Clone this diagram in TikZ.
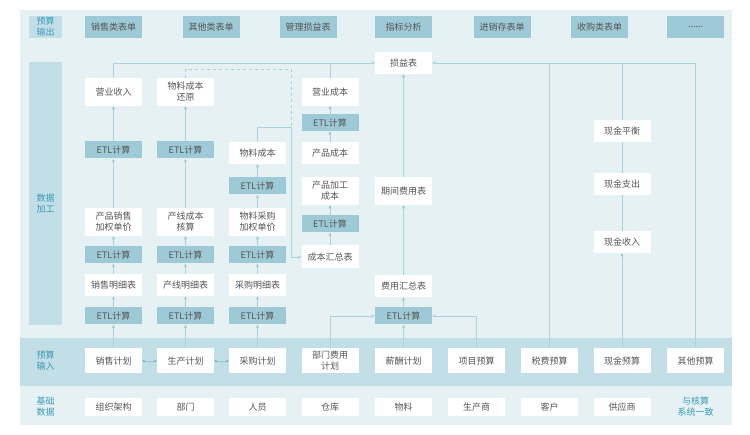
\documentclass[tikz,border=0pt]{standalone}
\usepackage{fontspec}
\setmainfont{Noto Sans CJK SC}
\usetikzlibrary{arrows.meta}
\definecolor{panelc}{HTML}{E6F1F4}
\definecolor{bandc}{HTML}{C2DFE7}
\definecolor{boxc}{HTML}{9DCAD6}
\definecolor{linec}{HTML}{A9D3DE}
\definecolor{tipc}{HTML}{8CC5D6}
\definecolor{textc}{HTML}{555555}
\definecolor{labelc}{HTML}{3A9AB4}

\begin{document}
\begin{tikzpicture}[x=1pt,y=-1pt]
  \tikzset{
      > = {Stealth[length=3.5pt,width=3.2pt]},
      every node/.append style = {
          font = \fontsize{9}{11}\selectfont,
          text = textc,
          align = center,
          inner sep = 0pt
      },
      plain/.style = {
          fill = white,
          minimum width = 57pt,
          minimum height = 22pt
      },
      twoline/.style = {
          plain,
          minimum height = 28pt
      },
      etl/.style = {
          fill = boxc,
          minimum width = 57pt,
          minimum height = 17pt
      },
      output/.style = {
          fill = boxc,
          minimum width = 57pt,
          minimum height = 22pt
      },
      budget/.style = {
          plain,
          minimum height = 25pt
      },
      base/.style = {
          plain,
          minimum height = 18pt
      },
      tag/.style = {
          fill = bandc,
          minimum width = 33pt,
          minimum height = 22pt
      },
      tagtext/.style = {
          text = labelc
      },
      link/.style = {
          draw = linec,
          line width = 0.8pt
      },
      flow/.style = {
          link,
          ->
      },
      dashlink/.style = {
          link,
          dash pattern = on 3pt off 3pt
      }
  }
  \useasboundingbox (0,0) rectangle (750,435);
  % background and bands
  \fill[panelc] (20,10) rectangle (732,425);
  \fill[bandc] (20,338) rectangle (732,386);

  % left labels
  \node[tag, tagtext] (lout) at (45.5,27) {预算\\输出};
  \node[tag, minimum height = 263pt] (lproc) at (45.5,193.5) {};
  \node[tagtext] (lproct) at (45.5,204) {数据\\加工};
  \node[tagtext] (linput) at (45.5,361) {预算\\输入};
  \node[tagtext] (lbase) at (45.5,407) {基础\\数据};

  % budget output
  \node[output] (o1) at (113.5,27) {销售类表单};
  \node[output] (o2) at (211,27) {其他类表单};
  \node[output] (o3) at (308,27) {管理损益表};
  \node[output] (o4) at (403.5,27) {指标分析};
  \node[output] (o5) at (502,27) {进销存表单};
  \node[output] (o6) at (599.5,27) {收购类表单};
  \node[output] (o7) at (695.5,27) {......};

  % data processing
  \node[plain] (pl) at (403.5,63) {损益表};

  \node[twoline] (rev) at (113.5,92) {营业收入};
  \node[etl] (etla1) at (113.5,150) {ETL计算};
  \node[twoline] (wsale) at (113.5,222) {产品销售\\加权单价};
  \node[etl] (etlb1) at (113.5,255) {ETL计算};
  \node[plain] (dsale) at (113.5,285) {销售明细表};
  \node[etl] (etlc1) at (113.5,316) {ETL计算};

  \node[twoline] (mrest) at (185.5,92) {物料成本\\还原};
  \node[etl] (etla2) at (185.5,150) {ETL计算};
  \node[twoline] (lcost) at (185.5,222) {产线成本\\核算};
  \node[etl] (etlb2) at (185.5,255) {ETL计算};
  \node[plain] (dline) at (185.5,285) {产线明细表};
  \node[etl] (etlc2) at (185.5,316) {ETL计算};

  \node[plain] (mcost) at (257.5,153) {物料成本};
  \node[etl] (etla3) at (257.5,186) {ETL计算};
  \node[twoline] (wpur) at (257.5,222) {物料采购\\加权单价};
  \node[etl] (etlb3) at (257.5,255) {ETL计算};
  \node[plain] (dpur) at (257.5,285) {采购明细表};
  \node[etl] (etlc3) at (257.5,316) {ETL计算};

  \node[twoline] (opcost) at (330,92) {营业成本};
  \node[etl] (etld4) at (330,123) {ETL计算};
  \node[plain] (pcost) at (330,153) {产品成本};
  \node[twoline] (ppcost) at (330,191) {产品加工\\成本};
  \node[etl] (etle4) at (330,224) {ETL计算};
  \node[plain, minimum height = 23pt] (csum) at (330,257) {成本汇总表};

  \node[twoline] (period) at (403.5,191) {期间费用表};
  \node[plain] (esum) at (403.5,286) {费用汇总表};
  \node[etl] (etlc5) at (403.5,316) {ETL计算};

  \node[plain] (cbal) at (622,131) {现金平衡};
  \node[plain] (cout) at (622,184) {现金支出};
  \node[plain] (cin) at (622,242) {现金收入};

  % budget input
  \node[budget] (isale) at (113.5,361) {销售计划};
  \node[budget] (iprod) at (185.5,361) {生产计划};
  \node[budget] (ipur) at (257.5,361) {采购计划};
  \node[budget] (idept) at (330,361) {部门费用\\计划};
  \node[budget] (ipay) at (403.5,361) {薪酬计划};
  \node[budget] (iproj) at (476.5,361) {项目预算};
  \node[budget] (itax) at (549.5,361) {税费预算};
  \node[budget] (icash) at (622,361) {现金预算};
  \node[budget] (iother) at (695.5,361) {其他预算};

  % base data
  \node[base] (borg) at (113.5,407) {组织架构};
  \node[base] (bdept) at (185.5,407) {部门};
  \node[base] (bstaff) at (257.5,407) {人员};
  \node[base] (bstore) at (330,407) {仓库};
  \node[base] (bmat) at (403.5,407) {物料};
  \node[base] (bmaker) at (476.5,407) {生产商};
  \node[base] (bcust) at (549.5,407) {客户};
  \node[base] (bsupp) at (622,407) {供应商};
  \node[tagtext] (bnote) at (695.5,407) {与核算\\系统一致};

  \coordinate (dtop) at (291,69);
  \coordinate (mjoin) at (291,127);

  % connectors
  \path[flow] (isale) edge (etlc1);
  \path[flow] (etlc1) edge (dsale);
  \path[flow] (dsale) edge (etlb1);
  \path[flow] (etlb1) edge (wsale);
  \path[flow] (wsale) edge (etla1);
  \path[flow] (etla1) edge (rev);
  \draw[flow] (rev.north) |- (pl.west);
  \draw[link] (opcost.north) -- (opcost.north |- pl.west);

  \path[flow] (iprod) edge (etlc2);
  \path[flow] (etlc2) edge (dline);
  \path[flow] (dline) edge (etlb2);
  \path[flow] (etlb2) edge (lcost);
  \path[flow] (lcost) edge (etla2);
  \path[flow] (etla2) edge (mrest);
  \draw[dashlink] (mrest.north) |- (dtop) -- (mjoin);

  \path[flow] (ipur) edge (etlc3);
  \path[flow] (etlc3) edge (dpur);
  \path[flow] (dpur) edge (etlb3);
  \path[flow] (etlb3) edge (wpur);
  \path[flow] (wpur) edge (etla3);
  \path[flow] (etla3) edge (mcost);
  \draw[flow] (mcost.north) |- (mjoin) |- (csum.west);

  \path[flow] (csum) edge (etle4);
  \path[flow] (etle4) edge (ppcost);
  \path[flow] (pcost) edge (etld4);
  \path[flow] (etld4) edge (opcost);

  \draw[flow] (idept.north) |- (etlc5.west);
  \path[flow] (ipay) edge (etlc5);
  \draw[flow] (iproj.north) |- (etlc5.east);
  \path[flow] (etlc5) edge (esum);
  \path[flow] (esum) edge (period);
  \path[flow] (period) edge (pl);

  \draw[link] (itax.north) -- (itax.north |- pl.east);
  \draw[flow] (iother.north) |- (pl.east);
  \path[flow] (icash) edge (cin);
  \path[link] (cin) edge (cout);
  \path[link] (cout) edge (cbal);
  \draw[link] (cbal.north) -- (cbal.north |- pl.east);

  \path[link, draw = tipc, <->] (isale) edge (iprod);
  \path[link, draw = tipc, <->] (iprod) edge (ipur);
\end{tikzpicture}
\end{document}
